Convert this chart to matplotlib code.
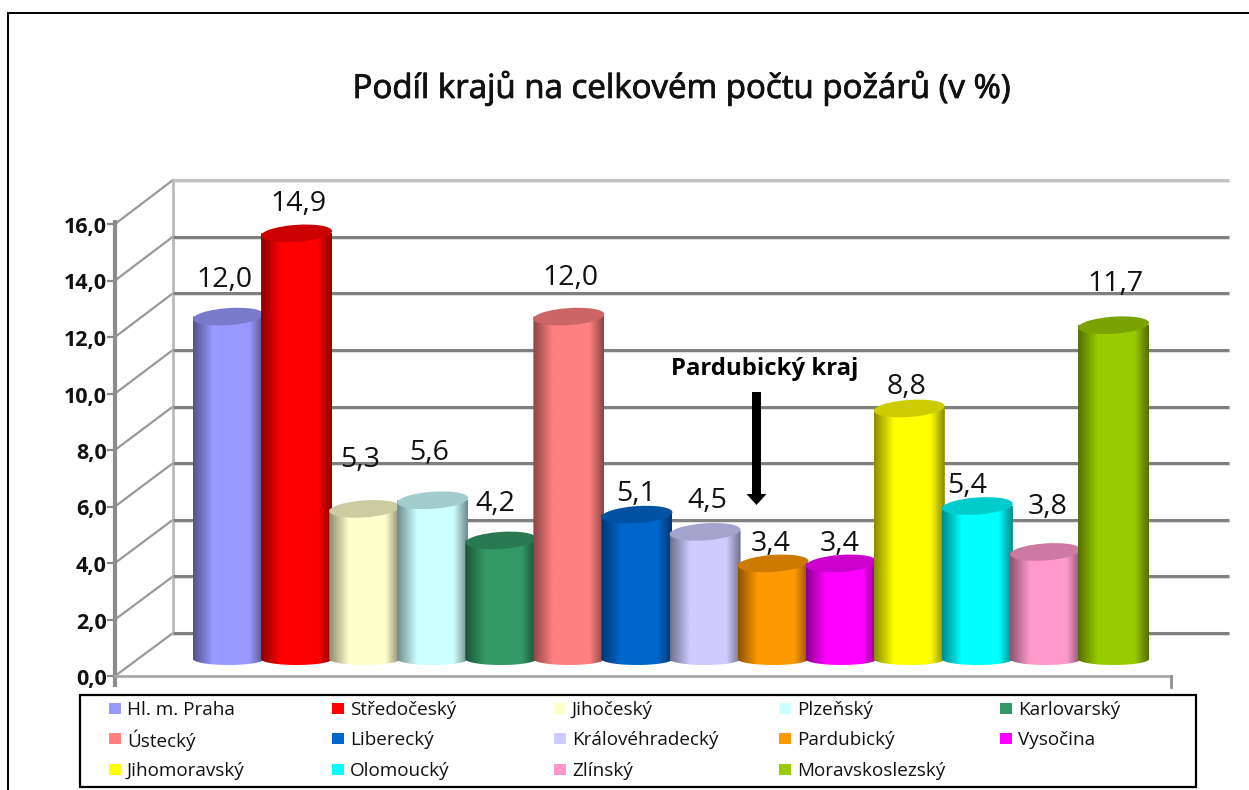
import numpy as np
import matplotlib
matplotlib.use('Agg')
import matplotlib.pyplot as plt
import matplotlib.patheffects as pe
from matplotlib.patches import Ellipse, Rectangle, PathPatch
from matplotlib.path import Path
from matplotlib.colors import to_rgb

regions = ['Hl. m. Praha','Středočeský','Jihočeský','Plzeňský','Karlovarský','Ústecký','Liberecký',
           'Královéhradecký','Pardubický','Vysočina','Jihomoravský','Olomoucký','Zlínský','Moravskoslezský']
values = [12.0,14.9,5.3,5.6,4.2,12.0,5.1,4.5,3.4,3.4,8.8,5.4,3.8,11.7]
colors = ['#9999FF','#FF0000','#FFFFCC','#CCFFFF','#339966','#FF8080','#0066CC','#CCCCFF','#FF9900',
          '#FF00FF','#FFFF00','#00FFFF','#FF99CC','#99CC00']
yticks = [0,2,4,6,8,10,12,14,16]
title = 'Podíl krajů na celkovém počtu požárů (v %)'
note = 'Pardubický kraj'

# layout of value labels (pixel centres), kept apart from the data
label_x = [225,299,360,429,495,571,636,707,771,840,907,967,1048,1116]
label_y = [280,204,460,453,504,278,494,501,544,544,387,486,507,284]

W,H = 1249,790
fig = plt.figure(figsize=(W/100,H/100),dpi=100)
ax = fig.add_axes([0,0,1,1])
ax.set_xlim(0,W); ax.set_ylim(H,0); ax.axis('off')
ff = ['Open Sans','DejaVu Sans']
bolden = lambda w: [pe.withStroke(linewidth=w,foreground='#111111')]

# outer frame
ax.plot([8,8],[790,13],color='black',lw=1.4)
ax.plot([8,1249],[13,13],color='black',lw=1.4)
t = ax.text(682,88,title,ha='center',va='center',fontsize=23.8,family=ff,color='#111111')
t.set_path_effects(bolden(0.6))

# value-to-pixel scales
y0f,y16f = 676,224     # front wall
y0b,y16b = 633,180     # back wall
xl,xb,xr,xe = 115,173,1171,1229
def yf(v): return y0f+(y16f-y0f)*v/16
def yb(v): return y0b+(y16b-y0b)*v/16

for v in yticks:
    top = v==16
    ax.plot([xl,xb],[yf(v),yb(v)],color='#999999',lw=1.6,zorder=1)
    ax.plot([xb,xe],[yb(v)+2,yb(v)+2],color='#DDDDDD',lw=1.2,zorder=1)
    ax.plot([xb,xe],[yb(v),yb(v)],color='#C4C4C4' if top else '#808080',lw=2.2,zorder=1.1,solid_capstyle='butt')
    ax.plot([xl-7,xl],[yf(v),yf(v)],color='#888888',lw=1.6,zorder=1)
    ax.text(107,yf(v)+3.5,f'{v:.1f}'.replace('.',','),ha='right',va='center',fontsize=15.5,
            fontweight='bold',family=ff,color='#111111')
ax.plot([xl,xl],[yf(16)-4,yf(0)+11],color='#8C8C8C',lw=3,zorder=1,solid_capstyle='butt')
ax.plot([xb,xb],[yb(0),yb(16)],color='#BBBBBB',lw=2,zorder=1)
ax.plot([xl,xr],[yf(0),yf(0)],color='#A8A8A8',lw=2,zorder=1)
ax.plot([xr,xr],[yf(0),yf(0)+11],color='#909090',lw=2,zorder=1)

# cylinders
left0,step,bw = 193,68.08,71
px_base,px_per_unit,bottom = 661,28.7,663
def shade(c):
    c = np.array(to_rgb(c))
    t = np.linspace(0,1,72)
    f = np.minimum(1,0.55+0.45*np.minimum(t/0.28,(1-t)/0.2))
    return np.clip(c[None,None,:]*f[None,:,None],0,1)
for i,(v,c) in enumerate(zip(values,colors)):
    x0 = left0+i*step
    cx = x0+bw/2
    top = px_base-px_per_unit*v
    z = 3+i*0.01
    im = ax.imshow(shade(c),extent=(x0,x0+bw,bottom+3,top),aspect='auto',zorder=z,interpolation='bilinear')
    th = np.linspace(np.pi,0,40)
    xs = cx+bw/2*np.cos(th)
    ys = bottom-4+6*np.sin(th)
    verts = [(x0,top)]+list(zip(xs,ys))+[(x0+bw,top-2),(x0,top)]
    clip = PathPatch(Path(verts),transform=ax.transData,fc='none',ec='none')
    ax.add_patch(clip)
    im.set_clip_path(clip)
    cap = np.array(to_rgb(c))*0.8
    ax.add_patch(Ellipse((cx,top),bw,17,angle=-4,color=cap,lw=0,zorder=z+0.001))
ax.set_xlim(0,W); ax.set_ylim(H,0)
for v,x,y in zip(values,label_x,label_y):
    ax.text(x,y,f'{v:.1f}'.replace('.',','),ha='center',va='center',fontsize=20.5,
            family=ff,color='#111111',zorder=10)

# annotation
ax.text(765,369,note,ha='center',va='center',fontsize=17.2,fontweight='bold',family=ff,color='black',zorder=12)
ax.arrow(756.5,392,0,113,width=9,head_width=20,head_length=11,length_includes_head=True,
         color='black',lw=0,zorder=12)

# legend
ax.add_patch(Rectangle((80,695),1116,92,fc='white',ec='black',lw=1.6,zorder=11))
cols = [109,332,554,779,1000]
rows = [709,739,770]
for i,(r,c) in enumerate(zip(regions,colors)):
    row,col = divmod(i,5)
    ax.add_patch(Rectangle((cols[col],rows[row]-6),12,11,fc=c,ec='none',zorder=12))
    ax.text(cols[col]+18,rows[row]+1,r,ha='left',va='center',fontsize=13.6,family=ff,color='#111111',zorder=12)
fig.savefig('out.png',dpi=100)
